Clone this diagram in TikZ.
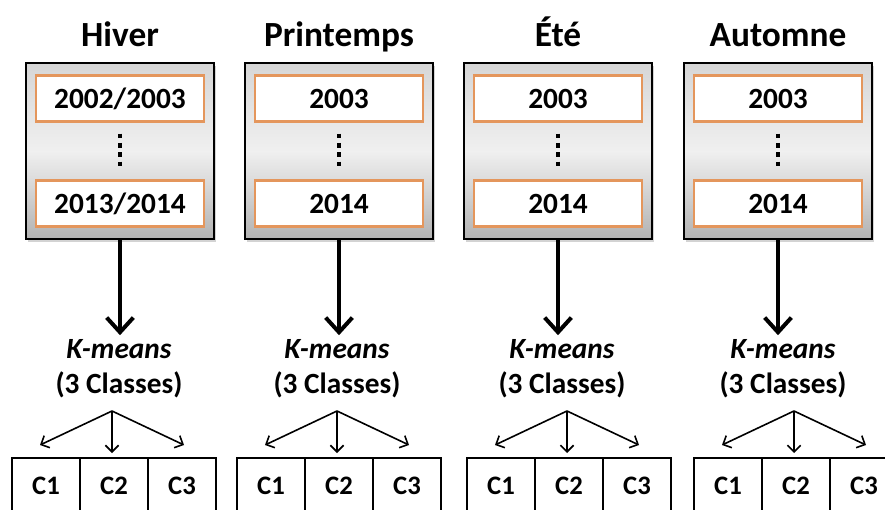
\documentclass[tikz,border=0pt]{standalone}
\usepackage{fontspec}
\setmainfont{Carlito}
\usetikzlibrary{positioning,arrows.meta,shadows}
\definecolor{rim}{RGB}{228,150,92}

\begin{document}
\begin{tikzpicture}[
  x=0.75pt, y=-0.75pt,
  every text node part/.style={align=center},
  season/.style={anchor=base, font=\fontsize{26.5}{30}\selectfont\bfseries},
  panel/.style={draw, line width=1.5pt, minimum width=141pt, minimum height=132pt, top color=black!16, bottom color=black!30, middle color=black!6, drop shadow={shadow xshift=1.5pt, shadow yshift=-2pt, opacity=0.35}},
  year/.style={draw=rim, line width=2pt, fill=white, minimum width=126pt, minimum height=34.5pt, font=\fontsize{22}{26}\selectfont\bfseries},
  algo/.style={font=\fontsize{22}{26}\selectfont\bfseries},
  cls/.style={draw, line width=1pt, minimum width=51pt, minimum height=41.25pt, font=\fontsize{20}{24}\selectfont\bfseries},
  dots/.style={line width=3.6pt, dash pattern=on 3.6pt off 3.4pt, shorten <=8pt, shorten >=10pt},
  arr/.style={-{Straight Barb[length=11pt,width=20pt]}, line width=3pt},
  fan/.style={-{Straight Barb[length=5pt,width=10pt]}, line width=1.2pt}
]
  \useasboundingbox (0,0) rectangle (885,510);
  \foreach \i/\name/\bx/\kx/\cx/\ya/\yb in {1/Hiver/120/119/12/{2002/2003}/{2013/2014},
      2/Printemps/339/337/237/2003/2014, 3/Été/558/562/467/2003/2014, 4/Automne/778/783/694/2003/2014}{
    \node[season] (t\i) at (\bx,47) {\name};
    \node[panel] (p\i) at (\bx,151) {};
    \node[year] (a\i) at (\bx,98.5) {\ya};
    \node[year] (b\i) at (\bx,203.5) {\yb};
    \node[algo] (k\i) at (\kx,369) {\textit{K-means}\\(3 Classes)};
    \node[cls] (c\i-1) at ({\cx+34},485.5) {C1};
    \node[cls] (c\i-2) at ({\cx+102},485.5) {C2};
    \node[cls] (c\i-3) at ({\cx+170},485.5) {C3};
    \coordinate (f\i) at ({\cx+100},411);
    \coordinate (l\i) at ({\cx+28},445);
    \coordinate (m\i) at ({\cx+100},453);
    \coordinate (r\i) at ({\cx+172},445);

    \draw[dots] (a\i) -- (b\i);
    \draw[arr] (p\i) -- (p\i.south |- k\i.north);
    \draw[fan] (f\i) -- (l\i);
    \draw[fan] (f\i) -- (m\i);
    \draw[fan] (f\i) -- (r\i);
  }
\end{tikzpicture}
\end{document}
